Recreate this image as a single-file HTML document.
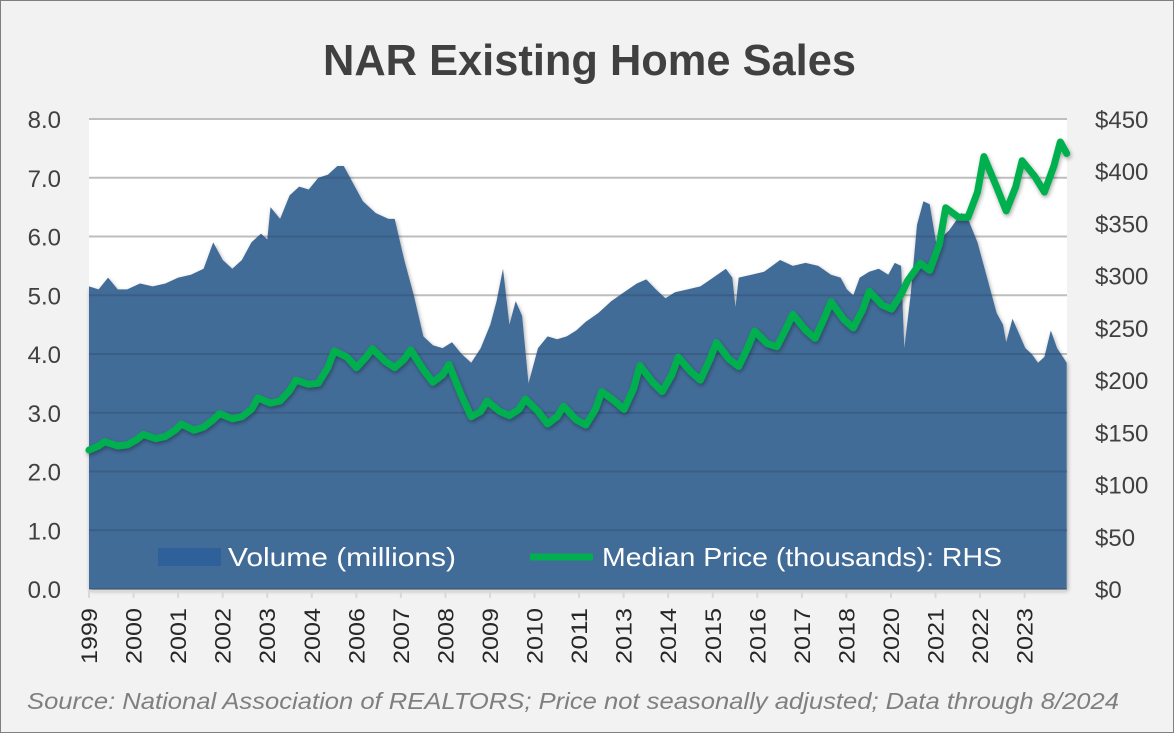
<!DOCTYPE html>
<html><head><meta charset="utf-8"><style>
html,body{margin:0;padding:0;}
body{width:1174px;height:733px;background:#f2f2f2;overflow:hidden;font-family:"Liberation Sans",sans-serif;}
#frame{position:absolute;left:0;top:0;width:1172px;height:731px;border:1px solid #7f7f7f;background:#f2f2f2;overflow:hidden;}
</style></head><body>
<div id="frame">
<svg id="chart" width="1172" height="731" xmlns="http://www.w3.org/2000/svg">
<defs>
<filter id="sh" x="-5%" y="-5%" width="110%" height="120%"><feDropShadow dx="1" dy="2" stdDeviation="2" flood-color="#000" flood-opacity="0.35"/></filter>
</defs>
<text x="322" y="74" textLength="533" lengthAdjust="spacingAndGlyphs" font-size="44" font-weight="bold" fill="#404040">NAR Existing Home Sales</text>
<rect x="88" y="118" width="978" height="470" fill="#ffffff"/>
<g id="grid"></g>
<g id="area"></g>
<g id="grid2"></g>
<g id="line"></g>
<g id="axes"></g>
<g>
<rect x="157" y="547" width="63" height="18" fill="#2e6199"/>
<text x="227" y="565" textLength="228" lengthAdjust="spacingAndGlyphs" font-size="26" fill="#ffffff">Volume (millions)</text>
<line x1="529" y1="556" x2="592" y2="556" stroke="#00b050" stroke-width="7"/>
<text x="601" y="565" textLength="400" lengthAdjust="spacingAndGlyphs" font-size="26" fill="#ffffff">Median Price (thousands): RHS</text>
</g>
<text x="26" y="708" textLength="1092" lengthAdjust="spacingAndGlyphs" font-size="23" font-style="italic" fill="#7f7f7f">Source: National Association of REALTORS; Price not seasonally adjusted; Data through 8/2024</text>
</svg>
</div>
<script>
const volMonths=[0,3,6,9,12,16,20,24,28,32,36,39,42,45,48,51,54,56,57,60,63,66,69,72,75,78,80,83,86,90,94,96,99,102,105,108,111,114,117,120,123,126,128,130,132,134,136,138,141,144,147,150,153,156,160,164,168,172,175,178,181,184,188,192,196,200,202,203,204,208,212,217,221,225,229,233,236,238,240,242,245,248,251,253,255,256,258,260,262,264,266,270,274,276,279,282,285,287,288,290,292,294,296,298,300,302,304,307];
const volValues=[5.15,5.1,5.3,5.1,5.1,5.2,5.15,5.2,5.3,5.35,5.45,5.9,5.6,5.45,5.6,5.9,6.05,5.95,6.5,6.3,6.7,6.85,6.8,7.0,7.05,7.2,7.2,6.9,6.6,6.4,6.3,6.3,5.6,5.0,4.3,4.15,4.1,4.2,4.0,3.85,4.1,4.5,4.9,5.45,4.5,4.9,4.65,3.5,4.1,4.3,4.25,4.3,4.4,4.55,4.7,4.9,5.05,5.2,5.27,5.1,4.95,5.05,5.1,5.15,5.3,5.45,5.3,4.8,5.3,5.35,5.4,5.6,5.5,5.55,5.5,5.35,5.3,5.1,5.0,5.3,5.4,5.45,5.35,5.55,5.5,4.1,5.0,6.2,6.6,6.55,5.9,6.1,6.4,6.3,5.9,5.3,4.7,4.5,4.2,4.6,4.35,4.1,4.0,3.85,3.95,4.4,4.1,3.85];
const priceMonths=[];
const priceValues=[133,137,141,137, 138,143,148,144, 146,152,158,152, 155,162,168,163, 165,172,183,178, 180,190,200,196, 197,212,228,222, 212,222,230,218, 212,220,229,210, 198,205,215,185, 165,170,180,170, 166,172,182,170, 158,165,175,162, 157,172,189,180, 172,192,214,198, 189,205,222,208, 200,220,236,220, 213,232,247,235, 232,250,263,248, 240,260,275,258, 250,268,285,272, 268,282,295,312, 305,330,365,356, 356,380,414,385, 362,385,410,395, 380,405,428,417];
const priceMonthOffsets=[0,3,5,9];
for(let y=0;y<26;y++){for(let k=0;k<4;k++){priceMonths.push(y===25&&k===3?307:y*12+priceMonthOffsets[k]);}}
const leftTicks=["0.0","1.0","2.0","3.0","4.0","5.0","6.0","7.0","8.0"];
const rightTicks=["$0","$50","$100","$150","$200","$250","$300","$350","$400","$450"];
const NS="http://www.w3.org/2000/svg";
const X0=88,X1=1066,Y0=588,Y1=118,NM=308;
const xs=m=>X0+m*(X1-X0)/(NM-0.9);
const yl=v=>Y0-(v/8)*(Y0-Y1);
const yr=v=>Y0-(v/450)*(Y0-Y1);
function mk(tag,attrs,parent){const e=document.createElementNS(NS,tag);for(const k in attrs)e.setAttribute(k,attrs[k]);parent.appendChild(e);return e;}
const grid=document.getElementById('grid'),grid2=document.getElementById('grid2'),axes=document.getElementById('axes');
leftTicks.forEach((t,i)=>{
  const y=yl(i);
  const g=mk('line',{x1:X0,x2:X1,y1:y,y2:y,stroke:'#d9d9d9','stroke-width':2},grid);
  
  
  const g2=mk('line',{x1:X0,x2:X1,y1:y,y2:y,stroke:'#000','stroke-opacity':0.12,'stroke-width':2},grid2);
  
  
  const tx=mk('text',{x:60,y:y+9,'text-anchor':'end','font-size':24,fill:'#404040'},axes);
  tx.textContent=t;
  
  
});
rightTicks.forEach((t,i)=>{
  const y=yr(i*50);
  const tx=mk('text',{x:1094,y:y+9,'font-size':24,fill:'#404040'},axes);
  tx.textContent=t;
  
  
});
let d=`M${xs(volMonths[0])},${Y0}`;
volMonths.forEach((m,i)=>{d+=` L${xs(m).toFixed(1)},${yl(volValues[i]).toFixed(1)}`;});
d+=` L${xs(volMonths[volMonths.length-1]).toFixed(1)},${Y0} Z`;
const area=mk('path',{d:d,fill:'#436c98',filter:'url(#sh)'},document.getElementById('area'));


let p='';
priceMonths.forEach((m,i)=>{p+=(i?' L':'M')+xs(m).toFixed(1)+','+yr(priceValues[i]).toFixed(1);});
const ln=mk('path',{d:p,fill:'none',stroke:'#00b050','stroke-width':7,'stroke-linejoin':'round','stroke-linecap':'round',filter:'url(#sh)'},document.getElementById('line'));


const ax=mk('line',{x1:X0,x2:X1,y1:590,y2:590,stroke:'#d9d9d9','stroke-width':2},axes);


for(let m=0;m<NM;m+=14){
  const x=X0+m*(X1-X0)/(NM-0.9)*0.9993;
  const tk=mk('line',{x1:x,x2:x,y1:589,y2:597,stroke:'#d9d9d9','stroke-width':2},axes);
  
  
  const tx=mk('text',{x:0,y:0,'text-anchor':'end','font-size':22,textLength:56,lengthAdjust:'spacingAndGlyphs',fill:'#262626',transform:`translate(${x+8},607) rotate(-90)`},axes);
  tx.textContent=String(1999+Math.floor(m/12));
  
  
}
</script>
</body></html>
